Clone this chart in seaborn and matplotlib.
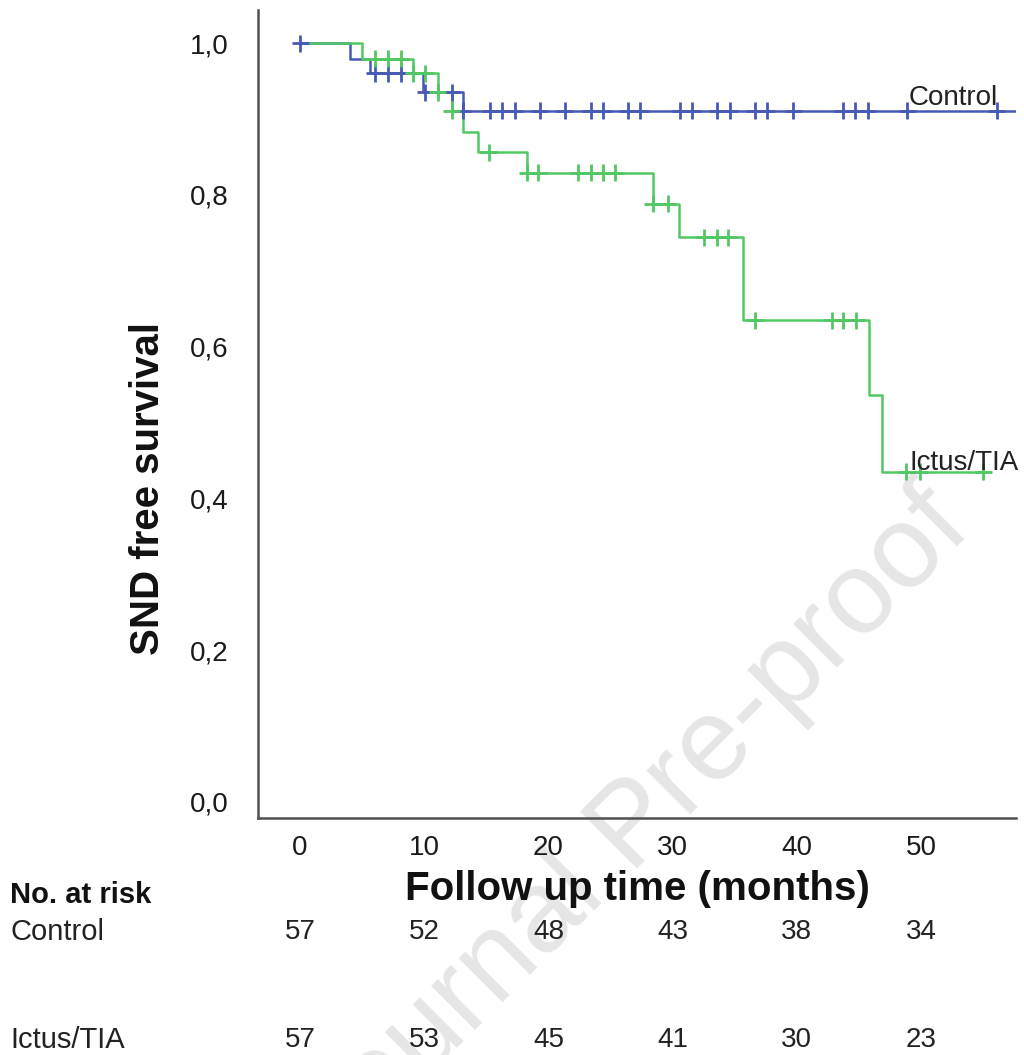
import numpy as np
import pandas as pd
import matplotlib
matplotlib.use('Agg')
import matplotlib.pyplot as plt
import matplotlib.transforms as mtransforms
import seaborn as sns

# Kaplan-Meier curves: step times (months) and survival after each step
control_step_t = [0, 4.0, 5.6, 9.9, 13.1]
control_step_s = [1.0, 0.979, 0.960, 0.935, 0.911]
control_censor_t = [0, 6.0, 7.1, 8.1, 10.1, 12.2, 13.1, 15.3, 16.3, 17.3, 19.3, 21.3,
                    23.4, 24.4, 26.4, 27.4, 30.6, 31.6, 33.6, 34.6, 36.6, 37.6, 39.7,
                    43.7, 44.7, 45.7, 48.9, 56.1]
control_end_t = 58.5

ictus_step_t = [0, 5.0, 9.1, 11.1, 12.2, 13.1, 14.3, 18.3, 28.4, 30.5, 35.7, 45.8, 46.9]
ictus_step_s = [1.0, 0.979, 0.960, 0.935, 0.911, 0.883, 0.856, 0.829, 0.788, 0.744,
                0.635, 0.536, 0.435]
ictus_censor_t = [6.0, 7.1, 8.1, 9.1, 10.1, 11.1, 12.2, 15.2, 18.3, 19.2, 22.4, 23.4,
                  24.4, 25.4, 28.4, 29.6, 32.5, 33.6, 34.5, 36.6, 42.8, 43.7, 44.8,
                  48.8, 49.9, 55.0]
ictus_end_t = 55.0

# numbers at risk
risk_times = [0, 10, 20, 30, 40, 50]
risk_control = [57, 52, 48, 43, 38, 34]
risk_ictus = [57, 53, 45, 41, 30, 23]

y_ticks = [0.0, 0.2, 0.4, 0.6, 0.8, 1.0]
y_ticklabels = ['0,0', '0,2', '0,4', '0,6', '0,8', '1,0']

groups = ['Control', 'Ictus/TIA']
palette = {'Control': '#4759b4', 'Ictus/TIA': '#52c862'}


def surv_at(step_t, step_s, t):
    idx = np.searchsorted(step_t, t, side='right') - 1
    return np.asarray(step_s)[idx]


# build the step lines and censor tables
curves = []
censors = []
for g, st, ss, ct, end in [('Control', control_step_t, control_step_s, control_censor_t, control_end_t),
                           ('Ictus/TIA', ictus_step_t, ictus_step_s, ictus_censor_t, ictus_end_t)]:
    curves.append(pd.DataFrame({'time': list(st) + [end],
                                'surv': list(ss) + [ss[-1]],
                                'group': g}))
    censors.append(pd.DataFrame({'time': ct,
                                 'surv': surv_at(st, ss, ct),
                                 'group': g}))
curves = pd.concat(curves, ignore_index=True)
censors = pd.concat(censors, ignore_index=True)

sns.set_style('white')
plt.rcParams['font.family'] = ['Liberation Sans', 'DejaVu Sans']

fig = plt.figure(figsize=(10.24, 10.55), dpi=100)
ax = fig.add_axes([0.2520, 0.22464, 0.74023, 0.76588])
ax.set_facecolor('none')

# watermark behind everything
fig.text(634 / 1024, 1 - 828 / 1055, 'Journal Pre-proof', rotation=45, fontsize=84,
         color='#e6e6e6', ha='center', va='center', zorder=-5)

sns.lineplot(data=curves, x='time', y='surv', hue='group', hue_order=groups,
             palette=palette, estimator=None, sort=False, drawstyle='steps-post',
             linewidth=1.8, legend=False, ax=ax)
sns.scatterplot(data=censors, x='time', y='surv', hue='group', hue_order=groups,
                palette=palette, marker='+', s=150, linewidth=2.0, legend=False,
                ax=ax, zorder=3)

ax.set_xlim(-3.38, 57.66)
ax.set_ylim(-0.0211, 1.0435)
ax.set_xticks(risk_times)
ax.set_xticklabels([str(t) for t in risk_times])
ax.set_yticks(y_ticks)
ax.set_yticklabels(y_ticklabels)
ax.tick_params(axis='both', length=0, labelsize=20, labelcolor='#1a1a1a')
ax.tick_params(axis='x', pad=12)
ax.tick_params(axis='y', pad=21)

for s in ['top', 'right']:
    ax.spines[s].set_visible(False)
for s in ['left', 'bottom']:
    ax.spines[s].set_color('#505050')
    ax.spines[s].set_linewidth(1.8)

ax.set_xlabel('Follow up time (months)', fontsize=29, fontweight='bold', color='#111111')
ax.xaxis.set_label_coords(0.5, -0.0643)
ax.set_ylabel('SND free survival', fontsize=29, fontweight='bold', color='#111111')
ax.yaxis.set_label_coords(-0.1207, 0.4078)

# curve labels
ax.text(49.0, 0.9275, 'Control', fontsize=20, color='#222222', ha='left', va='center')
ax.text(49.1, 0.4466, 'Ictus/TIA', fontsize=20, color='#222222', ha='left', va='center')

# number at risk table
trans = mtransforms.blended_transform_factory(ax.transData, fig.transFigure)
fig.text(10 / 1024, 1 - 895 / 1055, 'No. at risk', fontsize=21, fontweight='bold',
         color='#111111', ha='left', va='center')
fig.text(10 / 1024, 1 - 932 / 1055, 'Control', fontsize=21, color='#222222',
         ha='left', va='center')
fig.text(10 / 1024, 1 - 1040 / 1055, 'Ictus/TIA', fontsize=21, color='#222222',
         ha='left', va='center')
for t, nc, ni in zip(risk_times, risk_control, risk_ictus):
    ax.text(t, 1 - 932 / 1055, str(nc), transform=trans, fontsize=20, color='#222222',
            ha='center', va='center')
    ax.text(t, 1 - 1040 / 1055, str(ni), transform=trans, fontsize=20, color='#222222',
            ha='center', va='center')

fig.savefig('out.png', dpi=100)
